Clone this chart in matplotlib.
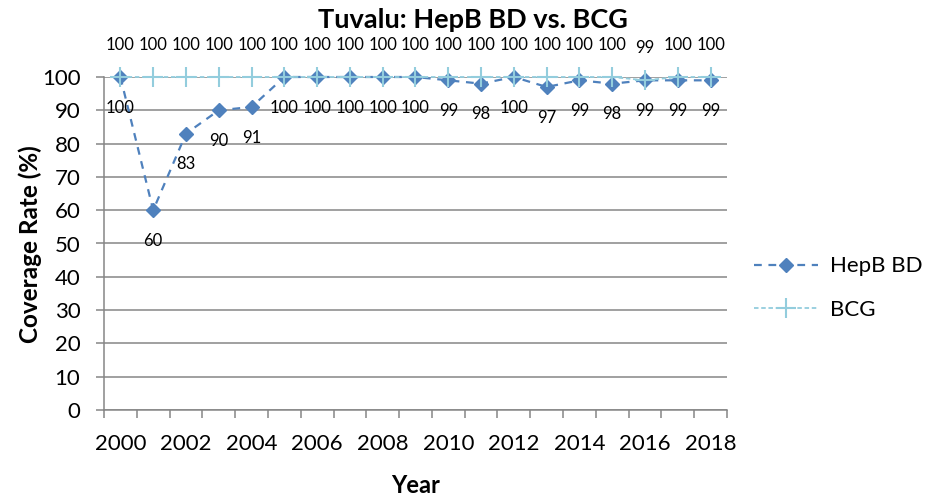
import numpy as np
import matplotlib.pyplot as plt

plt.rcParams['font.family'] = ['Lato', 'DejaVu Sans']

# data
years = [2000, 2001, 2002, 2003, 2004, 2005, 2006, 2007, 2008, 2009,
         2010, 2011, 2012, 2013, 2014, 2015, 2016, 2017, 2018]
hepb_bd = [100, 60, 83, 90, 91, 100, 100, 100, 100, 100,
           99, 98, 100, 97, 99, 98, 99, 99, 99]
bcg = [100, 100, 100, 100, 100, 100, 100, 100, 100, 100,
       100, 100, 100, 100, 100, 100, 99, 100, 100]
y_ticks = [0, 10, 20, 30, 40, 50, 60, 70, 80, 90, 100]

grid_col = '#868686'
hep_col = '#4F81BD'
bcg_col = '#93CDDD'

fig = plt.figure(figsize=(9.27, 4.98), dpi=100)
ax = fig.add_axes([104/927, 88/498, 623/927, 333/498])

x = np.arange(len(years))

ax.plot(x, hepb_bd, color=hep_col, lw=1.6, dashes=(3.5, 3), marker='D',
        ms=7.5, mfc=hep_col, mec=hep_col, label='HepB BD', clip_on=False, zorder=3)
ax.plot(x, bcg, color=bcg_col, lw=1.3, dashes=(2.5, 1.5), marker='+',
        ms=15, mew=1.5, label='BCG', clip_on=False, zorder=4)

# data labels
for xi, v in zip(x, hepb_bd):
    ax.annotate(str(v), (xi, v), xytext=(0, -22), textcoords='offset points',
                ha='center', va='center', fontsize=12, zorder=5)
for xi, v in zip(x, bcg):
    ax.annotate(str(v), (xi, v), xytext=(0, 23), textcoords='offset points',
                ha='center', va='center', fontsize=12, annotation_clip=False)

ax.set_xlim(-0.5, len(years) - 0.5)
ax.set_ylim(0, 100)

# category axis: boundary ticks, labels on every other year
ax.set_xticks(x[::2])
ax.set_xticklabels([str(y) for y in years[::2]], fontsize=16)
ax.set_xticks(np.arange(-0.5, len(years), 1.0), minor=True)
ax.tick_params(axis='x', which='major', length=0, pad=17)
ax.tick_params(axis='x', which='minor', length=6, width=1.1, color=grid_col)

ax.set_yticks(y_ticks)
ax.set_yticklabels([str(v) for v in y_ticks], fontsize=16)
ax.tick_params(axis='y', length=6, width=1.1, color=grid_col, pad=11)

ax.grid(axis='y', color=grid_col, lw=1.1)
ax.set_axisbelow(True)
for s in ['top', 'right']:
    ax.spines[s].set_visible(False)
for s in ['left', 'bottom']:
    ax.spines[s].set_color(grid_col)
    ax.spines[s].set_linewidth(1.1)

fig.text(473/927, 1 - 20/498, 'Tuvalu: HepB BD vs. BCG', ha='center', va='center',
         fontsize=19.5, fontweight='bold')
fig.text(416/927, 1 - 485/498, 'Year', ha='center', va='center',
         fontsize=17, fontweight='bold')
fig.text(30/927, 1 - 244/498, 'Coverage Rate (%)', ha='center', va='center',
         rotation=90, fontsize=17.5, fontweight='bold')

fig.legend(loc='center left', bbox_to_anchor=(754/927, 1 - 288/498),
           frameon=False, fontsize=16, handlelength=2.9, labelspacing=1.05,
           handletextpad=0.5, borderpad=0, borderaxespad=0)

fig.savefig('out.png', dpi=100)
